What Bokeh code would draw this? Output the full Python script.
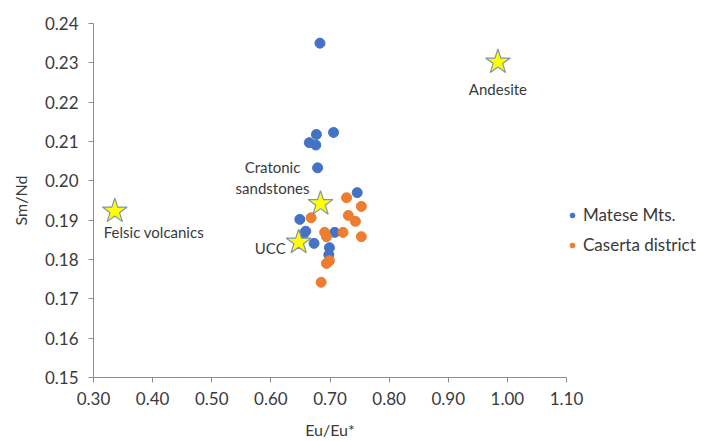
from bokeh.plotting import figure
from bokeh.models import (Range1d, Label, Legend, LegendItem, FixedTicker,
                          NumeralTickFormatter)
from bokeh.embed import file_html
from bokeh.resources import INLINE

# ---- data ----
matese_x = [0.683, 0.677, 0.706, 0.665, 0.676, 0.679, 0.746, 0.649, 0.659,
            0.655, 0.708, 0.673, 0.699, 0.698]
matese_y = [0.2350, 0.2118, 0.2123, 0.2097, 0.2091, 0.2033, 0.1970, 0.1902,
            0.1872, 0.1864, 0.1869, 0.1841, 0.1830, 0.1812]

caserta_x = [0.728, 0.753, 0.668, 0.731, 0.743, 0.691, 0.694, 0.722, 0.753,
             0.699, 0.694, 0.685]
caserta_y = [0.1957, 0.1935, 0.1906, 0.1912, 0.1897, 0.1869, 0.1858, 0.1869,
             0.1858, 0.1797, 0.1790, 0.1742]

ref_names = ["Felsic volcanics", "UCC", "Cratonic\nsandstones", "Andesite"]
ref_x = [0.336, 0.647, 0.684, 0.984]
ref_y = [0.1923, 0.1844, 0.1942, 0.2302]

x_ticks = [0.30, 0.40, 0.50, 0.60, 0.70, 0.80, 0.90, 1.00, 1.10]
y_ticks = [0.15, 0.16, 0.17, 0.18, 0.19, 0.20, 0.21, 0.22, 0.23, 0.24]

FONT = "Lato"
TXT = "#3a3a3a"

p = figure(frame_width=473, frame_height=354,
           min_border_left=93, min_border_right=138,
           min_border_top=23, min_border_bottom=64,
           x_range=Range1d(0.30, 1.10), y_range=Range1d(0.15, 0.24),
           output_backend="svg", toolbar_location=None)
p.outline_line_color = None
p.xgrid.visible = False
p.ygrid.visible = False
p.background_fill_color = "white"
p.border_fill_color = "white"

for ax in (p.xaxis[0], p.yaxis[0]):
    ax.axis_line_color = "#8c8c8c"
    ax.major_tick_line_color = "#8c8c8c"
    ax.major_tick_out = 5
    ax.major_tick_in = 0
    ax.minor_tick_line_color = None
    ax.major_label_text_font = FONT
    ax.major_label_text_font_size = "17px"
    ax.major_label_text_color = TXT
    ax.axis_label_text_font = FONT
    ax.axis_label_text_font_size = "16px"
    ax.axis_label_text_font_style = "normal"
    ax.axis_label_text_color = TXT
    ax.formatter = NumeralTickFormatter(format="0.00")

p.xaxis[0].ticker = FixedTicker(ticks=x_ticks)
p.yaxis[0].ticker = FixedTicker(ticks=y_ticks)
p.xaxis[0].axis_label = "Eu/Eu*"
p.yaxis[0].axis_label = "Sm/Nd"
p.xaxis[0].major_label_standoff = 9
p.xaxis[0].axis_label_standoff = 12
p.yaxis[0].major_label_standoff = 10
p.yaxis[0].axis_label_standoff = 12

r_m = p.scatter(matese_x, matese_y, size=10, color="#4472C4")
r_c = p.scatter(caserta_x, caserta_y, size=10, color="#ED7D31")

p.scatter(ref_x, ref_y, marker="star", size=26, fill_color="#FFFF00",
          line_color="#7F93B5", line_width=1.2)

# labels for reference compositions
lab_specs = [
    dict(x_offset=-11, y_offset=-12, text_align="left", text_baseline="top"),
    dict(x_offset=-13, y_offset=-6, text_align="right", text_baseline="middle"),
    dict(x_offset=-48, y_offset=7, text_align="center", text_baseline="bottom"),
    dict(x_offset=0, y_offset=-27, text_align="center", text_baseline="middle"),
]
for name, xx, yy, spec in zip(ref_names, ref_x, ref_y, lab_specs):
    p.add_layout(Label(x=xx, y=yy, text=name, text_font=FONT,
                       text_font_size="15px", text_color=TXT,
                       text_line_height=1.15, **spec))

legend = Legend(items=[LegendItem(label="Matese Mts.", renderers=[r_m]),
                       LegendItem(label="Caserta district", renderers=[r_c])],
                location=(0, 122), border_line_color=None,
                background_fill_alpha=0,
                label_text_font=FONT, label_text_font_size="17px",
                label_text_color=TXT, glyph_width=12, glyph_height=12,
                spacing=9, padding=0, margin=0, label_standoff=5)
p.add_layout(legend, "right")

open("out.html", "w").write(file_html(p, INLINE))
